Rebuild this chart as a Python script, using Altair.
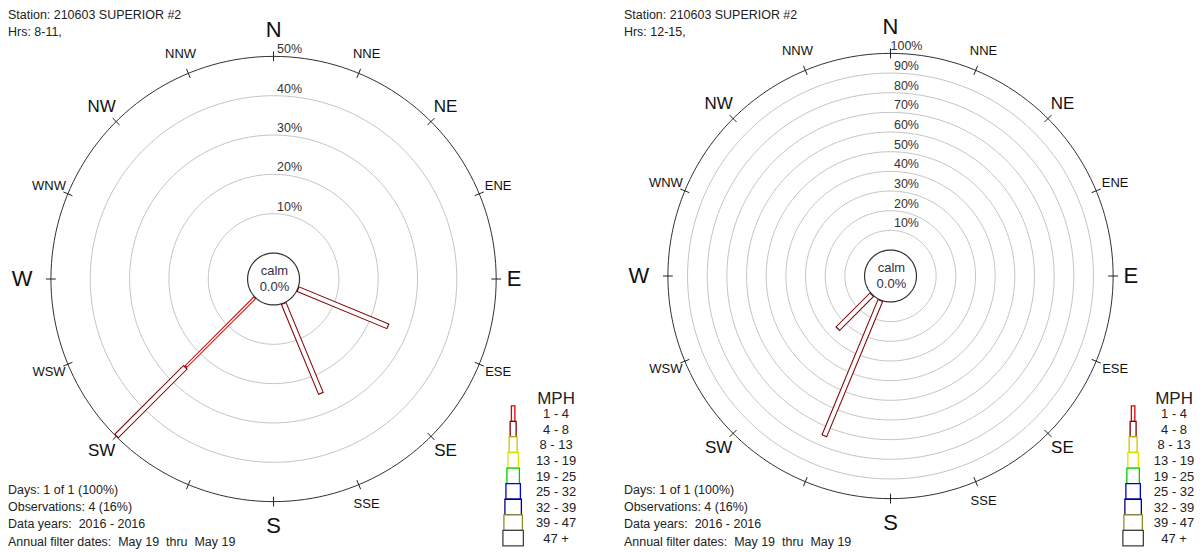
import altair as alt
import pandas as pd

# ---------------- data ----------------
DIRECTIONS = ["N", "NNE", "NE", "ENE", "E", "ESE", "SE", "SSE",
              "S", "SSW", "SW", "WSW", "W", "WNW", "NW", "NNW"]
SPEED_CLASSES = ["1 - 4", "4 - 8", "8 - 13", "13 - 19", "19 - 25",
                 "25 - 32", "32 - 39", "39 - 47", "47 +"]
HIDDEN_LABELS = ["SSW"]   # covered by the info block in the original

NB = "\u00a0"
STATION = "Station: 210603 SUPERIOR #2"
INFO_LINES = ["Days: 1 of 1 (100%)", "Observations: 4 (16%)",
              f"Data years:{NB} 2016 - 2016",
              f"Annual filter dates:{NB} May 19{NB} thru{NB} May 19"]
CALM_LABEL = "calm"
CALM_PCT = "0.0%"

LEFT_HOURS = "Hrs: 8-11,"
LEFT_DIRS = ["ESE", "SSE", "SW", "SW"]
LEFT_CLASSES = ["4 - 8", "4 - 8", "1 - 4", "4 - 8"]
LEFT_PCTS = [25, 25, 25, 25]
LEFT_RINGS = [10, 20, 30, 40, 50]

RIGHT_HOURS = "Hrs: 12-15,"
RIGHT_DIRS = ["SSW", "SW"]
RIGHT_CLASSES = ["4 - 8", "4 - 8"]
RIGHT_PCTS = [75, 25]
RIGHT_RINGS = [10, 20, 30, 40, 50, 60, 70, 80, 90, 100]

# ---------------- styles / layout ----------------
CLASS_COLORS = ["#e00000", "#800000", "#c8c800", "#e0e000", "#00cc00",
                "#0000dd", "#000080", "#909020", "#404040"]
CLASS_WIDTHS = [3.5, 6, 8, 10.5, 12.5, 14.5, 16.5, 18.5, 20.5]
LABEL_RADIUS = {"N": 1.12, "E": 1.08, "S": 1.108, "W": 1.13}
FONT = "Liberation Sans"
R = 223.0            # outer ring radius, px
CALM_U = 26.0 / R    # calm circle radius, in outer-radius units
H = 544


def panel(bar_dirs, bar_classes, bar_pcts, rings, hours,
          pw, cx_img, cy_img, x0_img, text_x_img, box_x_img, lab_x_img):
    cx = cx_img - x0_img
    cy = cy_img - 8

    def ux(px):
        return (px - x0_img - cx) / R

    def uy(py):
        return (cy - (py - 8)) / R

    maxp = rings[-1]
    k = (1 - CALM_U) / maxp
    xs = alt.Scale(domain=[-cx / R, (pw - cx) / R], nice=False, zero=False)
    ys = alt.Scale(domain=[-(H - cy) / R, cy / R], nice=False, zero=False)

    def X(f):
        return alt.X(f, type="quantitative", scale=xs, axis=None)

    def Y(f):
        return alt.Y(f, type="quantitative", scale=ys, axis=None)

    col_scale = alt.Scale(domain=SPEED_CLASSES, range=CLASS_COLORS)

    # rings
    angs = list(range(0, 361, 2))
    ring_df = pd.DataFrame([(p, a) for p in rings + [0] for a in angs],
                           columns=["pct", "ang"])
    ring_base = alt.Chart(ring_df).transform_calculate(
        rr=f"{CALM_U} + {k} * datum.pct",
        x="datum.rr * sin(datum.ang * PI / 180)",
        y="datum.rr * cos(datum.ang * PI / 180)",
    )
    enc = dict(x=X("x"), y=Y("y"), order=alt.Order("ang:Q"),
               detail=alt.Detail("pct:N"))
    grey = ring_base.transform_filter(f"datum.pct > 0 && datum.pct < {maxp}") \
        .mark_line(color="#c4c4c4", strokeWidth=1).encode(**enc)
    outer = ring_base.transform_filter(f"datum.pct == {maxp}") \
        .mark_line(color="#303030", strokeWidth=1).encode(**enc)
    calm = ring_base.transform_filter("datum.pct == 0") \
        .mark_line(color="#303030", strokeWidth=1.2).encode(**enc)

    # direction ticks and labels
    dir_df = pd.DataFrame({"dir": DIRECTIONS,
                           "ang": [i * 22.5 for i in range(16)]})
    dir_df["fs"] = [22 if i % 4 == 0 else (17 if i % 2 == 0 else 13)
                    for i in range(16)]
    dir_df["rad"] = [LABEL_RADIUS.get(d, 1.092) for d in DIRECTIONS]
    ticks = alt.Chart(dir_df).transform_calculate(
        x="0.978 * sin(datum.ang * PI / 180)",
        y="0.978 * cos(datum.ang * PI / 180)",
        x2="1.022 * sin(datum.ang * PI / 180)",
        y2="1.022 * cos(datum.ang * PI / 180)",
    ).mark_rule(color="#202020", strokeWidth=1).encode(
        x=X("x"), y=Y("y"), x2=alt.X2("x2"), y2=alt.Y2("y2"))
    lab_df = dir_df[~dir_df["dir"].isin(HIDDEN_LABELS)]
    dir_labels = alt.Chart(lab_df).transform_calculate(
        x="datum.rad * sin(datum.ang * PI / 180)",
        y="datum.rad * cos(datum.ang * PI / 180)",
    ).mark_text(font=FONT, color="#111111", align="center",
                baseline="middle").encode(
        x=X("x"), y=Y("y"), text="dir:N",
        size=alt.Size("fs:Q", scale=None, legend=None))

    # ring labels
    rl_df = pd.DataFrame({"pct": rings, "lab": [f"{p}%" for p in rings]})
    ring_labels = alt.Chart(rl_df).transform_calculate(
        x=f"{16 / R}",
        y=f"{CALM_U} + {k} * datum.pct + {3 / R}",
    ).mark_text(font=FONT, fontSize=12.5, color="#333333", align="center",
                baseline="alphabetic").encode(x=X("x"), y=Y("y"), text="lab:N")

    # bars
    bars = pd.DataFrame({"dir": bar_dirs, "cls": bar_classes, "pct": bar_pcts})
    bars["ci"] = [SPEED_CLASSES.index(c) for c in bars["cls"]]
    bars = bars.sort_values(["dir", "ci"]).reset_index(drop=True)
    bars["start"] = bars.groupby("dir")["pct"].cumsum() - bars["pct"]
    bars["ang"] = [DIRECTIONS.index(d) * 22.5 for d in bars["dir"]]
    bars["w"] = [CLASS_WIDTHS[i] for i in bars["ci"]]
    bars["ww"] = bars["w"] - 2
    bar_base = alt.Chart(bars).transform_calculate(
        r0=f"{CALM_U} + {k} * datum.start",
        r1=f"{CALM_U} + {k} * (datum.start + datum.pct)",
    )
    bar_out = bar_base.transform_calculate(
        x="datum.r0 * sin(datum.ang * PI / 180)",
        y="datum.r0 * cos(datum.ang * PI / 180)",
        x2="datum.r1 * sin(datum.ang * PI / 180)",
        y2="datum.r1 * cos(datum.ang * PI / 180)",
    ).mark_rule(strokeCap="butt").encode(
        x=X("x"), y=Y("y"), x2=alt.X2("x2"), y2=alt.Y2("y2"),
        stroke=alt.Stroke("cls:N", scale=col_scale, legend=None),
        strokeWidth=alt.StrokeWidth("w:Q", scale=None, legend=None))
    bar_in = bar_base.transform_calculate(
        a0=f"datum.r0 + {1.2 / R}",
        a1=f"datum.r1 - {1.2 / R}",
        x="datum.a0 * sin(datum.ang * PI / 180)",
        y="datum.a0 * cos(datum.ang * PI / 180)",
        x2="datum.a1 * sin(datum.ang * PI / 180)",
        y2="datum.a1 * cos(datum.ang * PI / 180)",
    ).mark_rule(strokeCap="butt", color="white").encode(
        x=X("x"), y=Y("y"), x2=alt.X2("x2"), y2=alt.Y2("y2"),
        strokeWidth=alt.StrokeWidth("ww:Q", scale=None, legend=None))

    # calm text
    calm_df = pd.DataFrame({"t": [CALM_LABEL, CALM_PCT],
                            "y": [8 / R, -8 / R], "x": [0.004, 0.004]})
    calm_text = alt.Chart(calm_df).mark_text(
        font=FONT, fontSize=13, color="#30304a", align="center",
        baseline="middle").encode(x=X("x"), y=Y("y"), text="t:N")

    # legend
    top0, dy = 405.0, 15.6
    leg = pd.DataFrame({"cls": SPEED_CLASSES})
    leg["w"] = CLASS_WIDTHS
    leg["top"] = [top0 + i * dy for i in range(len(SPEED_CLASSES))]
    leg["x1"] = [ux(box_x_img - w / 2) for w in leg["w"]]
    leg["x2"] = [ux(box_x_img + w / 2) for w in leg["w"]]
    leg["y1"] = [uy(t) for t in leg["top"]]
    leg["y2"] = [uy(t + dy) for t in leg["top"]]
    leg["lx"] = ux(lab_x_img)
    leg["ly"] = [uy(t + 8.5) for t in leg["top"]]
    leg_boxes = alt.Chart(leg).mark_rect(fill="white", strokeWidth=1.3).encode(
        x=X("x1"), x2=alt.X2("x2"), y=Y("y1"), y2=alt.Y2("y2"),
        stroke=alt.Stroke("cls:N", scale=col_scale, legend=None))
    leg_labels = alt.Chart(leg).mark_text(
        font=FONT, fontSize=13, color="#222222", align="center",
        baseline="middle").encode(x=X("lx"), y=Y("ly"), text="cls:N")
    mph_df = pd.DataFrame({"t": ["MPH"], "x": [ux(lab_x_img)], "y": [uy(398)]})
    mph = alt.Chart(mph_df).mark_text(
        font=FONT, fontSize=17, color="#222222", align="center",
        baseline="middle").encode(x=X("x"), y=Y("y"), text="t:N")

    # header / footer text
    txt_df = pd.DataFrame({
        "t": [STATION, hours] + INFO_LINES,
        "y": [uy(b) for b in [18, 35, 493, 510, 527.5, 545]],
    })
    txt_df["x"] = ux(text_x_img)
    texts = alt.Chart(txt_df).mark_text(
        font=FONT, fontSize=12.5, color="#222222", align="left",
        baseline="alphabetic").encode(x=X("x"), y=Y("y"), text="t:N")

    return alt.layer(
        grey, outer, ticks, bar_out, bar_in, calm, calm_text, ring_labels,
        dir_labels, leg_boxes, leg_labels, mph, texts
    ).properties(width=pw, height=H)


left = panel(LEFT_DIRS, LEFT_CLASSES, LEFT_PCTS, LEFT_RINGS, LEFT_HOURS,
             600, 274, 278, 8, 8, 514, 557)
right = panel(RIGHT_DIRS, RIGHT_CLASSES, RIGHT_PCTS, RIGHT_RINGS, RIGHT_HOURS,
              587, 892, 275, 608, 625, 1135, 1176)

chart = alt.hconcat(left, right, spacing=0).properties(padding=0) \
    .configure_view(stroke=None).configure_concat(spacing=0)

chart.save("out.html", embed_options={"renderer": "svg", "actions": False})
